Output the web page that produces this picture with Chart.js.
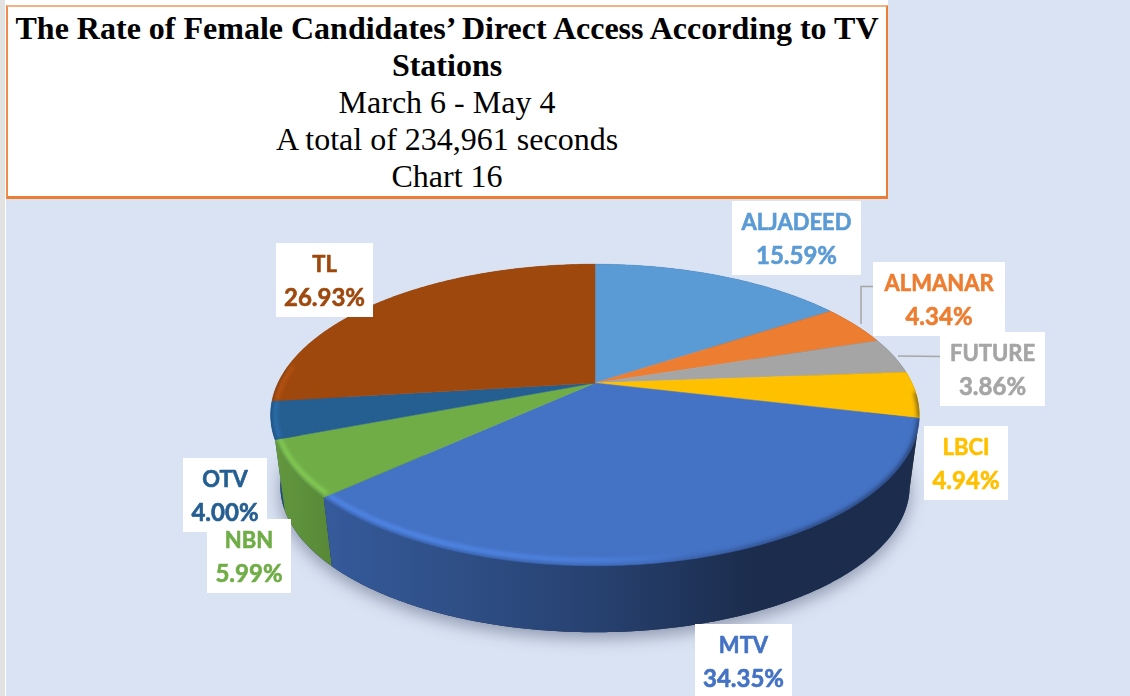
<!DOCTYPE html>
<html><head><meta charset="utf-8">
<script src="https://cdn.jsdelivr.net/npm/chart.js@4"></script>
<style>
html,body{margin:0;padding:0;background:#fff;width:1130px;height:696px;overflow:hidden}
#c{position:absolute;left:0;top:0}
#box{position:absolute;left:6px;top:5px;width:878px;height:189px;background:#fff;border:2px solid #f4b183;border-left:2px solid #f08c4e;border-right:2px solid #ed7d31;border-bottom:3px solid #ed7d31;font-family:"Liberation Serif",serif;font-size:32px;line-height:37px;text-align:center;color:#000;white-space:nowrap}
#box b{display:block}
#box div,#box b{height:37px}
#box .l{position:relative;top:3px}
</style></head><body>
<canvas id="c" width="1130" height="696"></canvas>
<div id="box">
<b class="l" id="t1">The Rate of Female Candidates’ Direct Access According to TV</b>
<b class="l">Stations</b>
<div class="l">March 6 - May 4</div>
<div class="l">A total of 234,961 seconds</div>
<div class="l">Chart 16</div>
</div>
<script>
const categories=["ALJADEED","ALMANAR","FUTURE","LBCI","MTV","NBN","OTV","TL"];
const shares=[15.59,4.34,3.86,4.94,34.35,5.99,4.00,26.93];
const colours=["#5b9bd5","#ed7d31","#a5a5a5","#ffc000","#4472c4","#70ad47","#255e91","#9e480e"];
const labelBoxes=[[732,201,129],[873,262,132],[940,332,105],[924,426,84],[695,624,97],[207,519,84],[183,458,84],[276,243,97]];
const drawOrder=[0,1,2,3,4,6,5,7];

const A=317,B=144,K=0.212,DEPTH=72,BOTTOM_SCALE=0.97;
function hex(c){return [1,3,5].map(i=>parseInt(c.substr(i,2),16));}
function shade(c,f,al){const v=hex(c).map(v=>Math.min(255,Math.round(v*f)));return 'rgba('+v.join(',')+','+(al===undefined?1:al)+')';}
function proj(cx,cy,th,bottom){
  const u=Math.sin(th),v=Math.cos(th),w=1+K*v,s=bottom?BOTTOM_SCALE:1;
  return [cx+s*A*u/w,cy+(bottom?DEPTH:0)-s*B*v/w];
}
function slices(chart){
  return chart.getDatasetMeta(0).data.map((el,i)=>({i,cx:el.x,cy:el.y,a0:el.startAngle+Math.PI/2,a1:el.endAngle+Math.PI/2,col:colours[i]}));
}
function steps(a0,a1){const n=Math.max(2,Math.ceil((a1-a0)/0.01)),r=[];for(let j=0;j<=n;j++)r.push(a0+(a1-a0)*j/n);return r;}
function facePath(ctx,s){ctx.beginPath();ctx.moveTo(s.cx,s.cy);steps(s.a0,s.a1).forEach(t=>{const p=proj(s.cx,s.cy,t);ctx.lineTo(p[0],p[1]);});ctx.closePath();}
function sideGrad(ctx,col){
  const g=ctx.createLinearGradient(272,0,918,0);
  [[0,.88],[.1,.78],[.3,.68],[.5,.57],[.75,.39],[1,.39]].forEach(x=>g.addColorStop(x[0],shade(col,x[1])));
  return g;
}
const pie3d={
  id:'pie3d',
  beforeDraw(chart){
    const ctx=chart.ctx;
    ctx.save();
    ctx.fillStyle='#e2e2e2';ctx.fillRect(0,0,5,696);
    ctx.fillStyle='#dae3f3';ctx.fillRect(6,0,1124,696);
    ctx.fillStyle='#fff';ctx.fillRect(5,0,883,6);
    ctx.restore();
  },
  beforeDatasetDraw(chart){
    const ctx=chart.ctx,list=slices(chart);
    const cx=list[0].cx,cy=list[0].cy;
    // soft ground shadow
    ctx.save();
    ctx.shadowColor='rgba(70,80,110,.5)';ctx.shadowBlur=16;ctx.shadowOffsetY=6;ctx.fillStyle='#1a2c50';
    ctx.beginPath();steps(Math.PI/2,Math.PI*1.5).forEach(t=>{const p=proj(cx,cy,t,true);ctx.lineTo(p[0],p[1]);});ctx.closePath();ctx.fill();
    ctx.restore();
    // side walls
    list.slice().sort((a,b)=>Math.cos((b.a0+b.a1)/2)<Math.cos((a.a0+a.a1)/2)?-1:1).forEach(s=>{
      ctx.save();
      ctx.fillStyle=sideGrad(ctx,s.col);
      ctx.beginPath();
      const ts=steps(s.a0,s.a1);
      ts.forEach(t=>{const p=proj(cx,cy,t);ctx.lineTo(p[0],p[1]);});
      ts.slice().reverse().forEach(t=>{const p=proj(cx,cy,t,true);ctx.lineTo(p[0],p[1]);});
      ctx.closePath();ctx.fill();
      ctx.restore();
    });
    // top faces
    list.forEach(s=>{
      ctx.save();ctx.fillStyle=s.col;ctx.strokeStyle=s.col;ctx.lineWidth=.5;facePath(ctx,s);ctx.fill();ctx.stroke();ctx.restore();
    });
    // rim bevel
    const lo=Math.PI*0.52,hi=Math.PI*1.54;
    list.forEach(s=>{
      const a0=Math.max(s.a0,lo),a1=Math.min(s.a1,hi);
      if(a1<=a0)return;
      ctx.save();facePath(ctx,s);ctx.clip();
      ctx.filter='blur(2px)';ctx.lineCap='butt';
      const gl=ctx.createLinearGradient(272,0,918,0);
      gl.addColorStop(0,shade(s.col,1.28,.9));gl.addColorStop(.25,shade(s.col,1.28,.9));gl.addColorStop(.5,shade(s.col,1.28,.6));gl.addColorStop(.66,shade(s.col,1.28,0));gl.addColorStop(1,shade(s.col,1.28,0));
      ctx.strokeStyle=gl;ctx.lineWidth=4;
      ctx.beginPath();steps(a0,a1).forEach(t=>{const p=proj(cx,cy,t);ctx.lineTo(p[0]+(cx-p[0])*.012,p[1]+(cy-p[1])*.028);});ctx.stroke();
      const gd=ctx.createLinearGradient(272,0,918,0);
      gd.addColorStop(0,'rgba(15,25,50,.3)');gd.addColorStop(.4,'rgba(15,25,50,.2)');gd.addColorStop(.58,'rgba(15,25,50,.1)');gd.addColorStop(.8,'rgba(15,25,50,.55)');gd.addColorStop(1,'rgba(15,25,50,.7)');
      ctx.strokeStyle=gd;ctx.lineWidth=3.5;
      ctx.beginPath();steps(a0,a1).forEach(t=>{const p=proj(cx,cy,t);ctx.lineTo(p[0],p[1]);});ctx.stroke();
      ctx.restore();
    });
    return false;
  },
  afterDraw(chart){
    const ctx=chart.ctx;
    ctx.save();
    ctx.strokeStyle='#a6a6a6';ctx.lineWidth=1.5;
    ctx.beginPath();ctx.moveTo(874,286.5);ctx.lineTo(861,286.5);ctx.lineTo(861,324);ctx.stroke();
    ctx.beginPath();ctx.moveTo(941,356.5);ctx.lineTo(898,356);ctx.stroke();
    ctx.fillStyle='#fff';
    drawOrder.forEach(i=>{const b=labelBoxes[i];ctx.fillRect(b[0],b[1],b[2],74);});
    ctx.textAlign='center';ctx.textBaseline='middle';ctx.lineWidth=.6;ctx.lineJoin='round';
    drawOrder.forEach(i=>{
      const b=labelBoxes[i],mid=b[0]+b[2]/2;
      ctx.fillStyle=colours[i];ctx.strokeStyle=colours[i];
      ctx.font='bold 22px Lato';
      ctx.fillText(categories[i],mid,b[1]+22);ctx.strokeText(categories[i],mid,b[1]+22);
      const t=shares[i].toFixed(2)+'%';
      ctx.font='bold 24px Lato';
      ctx.fillText(t,mid,b[1]+55);ctx.strokeText(t,mid,b[1]+55);
    });
    ctx.restore();
  }
};
new Chart(document.getElementById('c'),{
  type:'pie',
  data:{labels:categories,datasets:[{data:shares,backgroundColor:colours,borderWidth:0}]},
  options:{
    responsive:false,animation:false,events:[],
    layout:{padding:{left:60,right:0,top:70,bottom:0}},
    plugins:{legend:{display:false},tooltip:{enabled:false},title:{display:false}}
  },
  plugins:[pie3d]
});
</script>
</body></html>
